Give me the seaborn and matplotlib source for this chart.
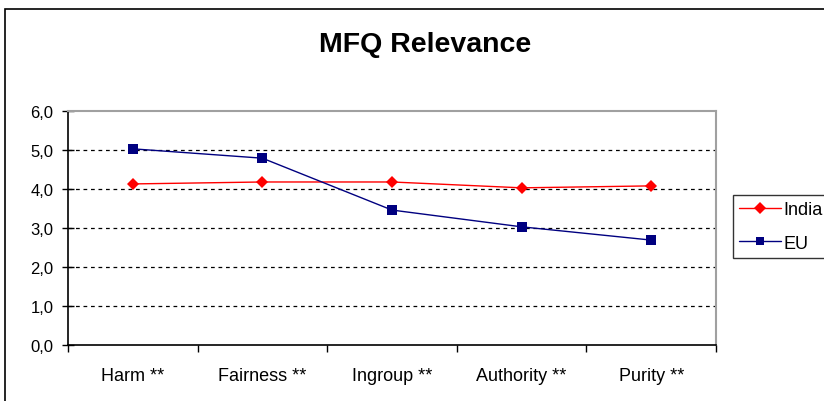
import pandas as pd
import matplotlib.pyplot as plt
import matplotlib.patches as patches
from matplotlib.ticker import FixedLocator, FuncFormatter
import seaborn as sns

# MFQ relevance scores
categories = ["Harm **", "Fairness **", "Ingroup **", "Authority **", "Purity **"]
india = [4.13, 4.18, 4.18, 4.03, 4.08]
eu = [5.03, 4.79, 3.46, 3.03, 2.69]

df = pd.DataFrame({
    "Foundation": categories * 2,
    "Score": india + eu,
    "Group": ["India"] * len(india) + ["EU"] * len(eu),
})

sns.set_style("white")
plt.rcParams["font.family"] = ["Liberation Sans", "DejaVu Sans"]
plt.rcParams["text.color"] = "black"
plt.rcParams["xtick.color"] = "black"
plt.rcParams["ytick.color"] = "black"

fig = plt.figure(figsize=(8.24, 4.02), dpi=100)
ax = fig.add_axes([68 / 824, 1 - 346 / 402, (716 - 68) / 824, (346 - 112) / 402])

sns.lineplot(data=df, x="Foundation", y="Score", hue="Group", style="Group",
             palette={"India": "#ff0000", "EU": "#000080"},
             markers={"India": "D", "EU": "s"}, dashes=False,
             markersize=6, linewidth=1, sort=False, ax=ax)

# make the markers crisp like the original
for line in ax.lines:
    line.set_markeredgewidth(0)
ax.lines[0].set_markersize(6)
ax.lines[1].set_markersize(7)

ax.set_xlim(-0.5, len(categories) - 0.5)
ax.set_ylim(0, 6)
ax.set_xlabel("")
ax.set_ylabel("")

# y axis with comma decimals and dashed grid
ax.set_yticks([0, 1, 2, 3, 4, 5, 6])
ax.yaxis.set_major_formatter(FuncFormatter(lambda v, p: f"{v:.1f}".replace(".", ",")))
for yv in [1, 2, 3, 4, 5]:
    ax.axhline(yv, color="black", linestyle=(0, (3, 3)), linewidth=0.9, zorder=0)

# x ticks at the category boundaries, labels in the middle
ax.xaxis.set_major_locator(FixedLocator([i - 0.5 for i in range(len(categories) + 1)]))
ax.xaxis.set_minor_locator(FixedLocator(list(range(len(categories)))))
ax.set_xticklabels([])
ax.set_xticklabels(categories, minor=True)
ax.tick_params(axis="x", which="major", direction="out", length=5, width=1, color="black", bottom=True)
ax.tick_params(axis="x", which="minor", length=0, pad=16, labelsize=13, labelcolor="black")
ax.tick_params(axis="y", direction="inout", length=9, width=1, color="black", left=True,
               labelsize=12, pad=6, labelcolor="black")

for side in ["left", "bottom"]:
    ax.spines[side].set_color("black")
    ax.spines[side].set_linewidth(1.2)
for side in ["top", "right"]:
    ax.spines[side].set_color("#a0a0a0")
    ax.spines[side].set_linewidth(1.5)

# legend box on the right, partly cut off like the original
ax.get_legend().remove()
handles, labels = ax.get_legend_handles_labels()
leg = fig.legend(handles[-2:], ["India", "EU"], loc="upper left",
                 bbox_to_anchor=(733 / 824, 1 - 196 / 402), frameon=True,
                 fancybox=False, fontsize=13, handlelength=2.3, handletextpad=0.15,
                 borderpad=0.35, labelspacing=0.9, borderaxespad=0)
leg.get_frame().set_edgecolor("black")
leg.get_frame().set_linewidth(1)

fig.suptitle("MFQ Relevance", x=425 / 824, y=1 - 45 / 402, va="center",
             fontsize=20.5, fontweight="bold", color="black")

# outer chart border
fig.patches.append(patches.Rectangle((5 / 824, -0.1), 1.2, 1 - 10 / 402 + 0.1,
                                     transform=fig.transFigure, fill=False,
                                     edgecolor="black", linewidth=1.2))

fig.savefig("out.png", dpi=100)
